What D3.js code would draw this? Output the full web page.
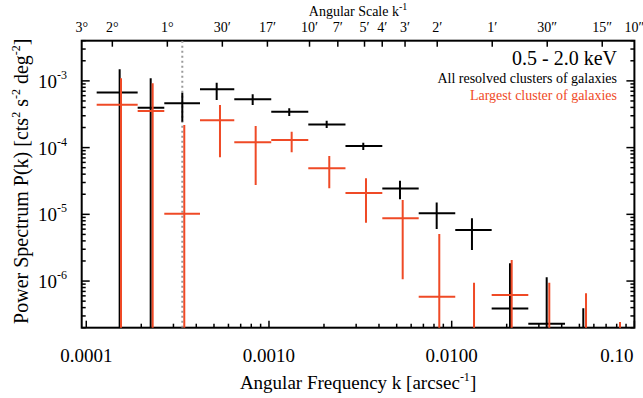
<!DOCTYPE html>
<html>
<head>
<meta charset="utf-8">
<script src="https://cdn.jsdelivr.net/npm/d3@7"></script>
<style>
  body { margin: 0; background: #fff; }
  text { font-family: "Liberation Serif", "Times New Roman", serif; }
</style>
</head>
<body>
<div class="chart"></div>
<script>
// bins (arcsec^-1)
const binLo = [1.14e-4, 1.911e-4, 2.673e-4, 4.192e-4, 6.458e-4, 1.029e-3, 1.641e-3, 2.622e-3, 4.171e-3, 6.598e-3, 1.046e-2, 1.655e-2, 2.626e-2, 4.172e-2, 6.622e-2];
const binHi = [1.911e-4, 2.673e-4, 4.192e-4, 6.458e-4, 1.029e-3, 1.641e-3, 2.622e-3, 4.171e-3, 6.598e-3, 1.046e-2, 1.655e-2, 2.626e-2, 4.172e-2, 6.622e-2, 0.105];

// all resolved clusters (black)
const allK  = [1.523e-4, 2.252e-4, 3.354e-4, 5.173e-4, 8.143e-4, 1.291e-3, 2.069e-3, 3.282e-3, 5.212e-3, 8.277e-3, 1.291e-2, 2.085e-2, 3.311e-2, 5.252e-2];
const allP  = [6.70e-4, 3.96e-4, 4.61e-4, 7.48e-4, 5.30e-4, 3.45e-4, 2.22e-4, 1.057e-4, 2.43e-5, 1.04e-5, 5.83e-6, 3.88e-7, 2.30e-7, null];
const allHi = [1.49e-3, 1.094e-3, 6.66e-4, 9.40e-4, 6.30e-4, 3.88e-4, 2.53e-4, 1.185e-4, 3.19e-5, 1.50e-5, 8.73e-6, 1.85e-6, 1.14e-6, 3.91e-7];
const allLo = [null, null, 2.45e-4, 5.18e-4, 4.35e-4, 2.98e-4, 1.97e-4, 9.20e-5, 1.68e-5, 6.04e-6, 2.92e-6, null, null, null];

// largest cluster (red)
const bigK  = [1.549e-4, 2.309e-4, 3.439e-4, 5.393e-4, 8.456e-4, 1.331e-3, 2.138e-3, 3.396e-3, 5.393e-3, 8.552e-3, 1.325e-2, 2.130e-2, 3.421e-2, 5.435e-2, 8.34e-2];
const bigP  = [4.40e-4, 3.54e-4, 1.023e-5, 2.57e-4, 1.20e-4, 1.30e-4, 4.90e-5, 2.09e-5, 8.73e-6, 5.83e-7, null, 6.19e-7, null, null, null];
const bigHi = [1.094e-3, 9.20e-4, 2.18e-4, 4.35e-4, 2.11e-4, 1.73e-4, 7.50e-5, 3.47e-5, 1.64e-5, 5.08e-6, 9.46e-7, 2.07e-6, 9.46e-7, 6.56e-7, 2.44e-7];
const bigLo = [null, null, null, 7.16e-5, 2.75e-5, 8.51e-5, 2.45e-5, 7.50e-6, 1.06e-6, null, null, null, null, null, null];

const beamK = 3.354e-4;

const xMajor = [0.0001, 0.001, 0.01, 0.1];
const xMajorLabels = ["0.0001", "0.0010", "0.0100", "0.10"];
const yMajorExp = [-3, -4, -5, -6];
const angArcsec = [10800, 7200, 3600, 1800, 1020, 600, 420, 300, 240, 180, 120, 60, 30, 15, 10];
const angLabels = ["3°", "2°", "1°", "30′", "17′", "10′", "7′", "5′", "4′", "3′", "2′", "1′", "30″", "15″", "10″"];

const W = 643, H = 398;
const margin = {top: 40.7, right: 8.6, bottom: 70.3, left: 81.7};
const red = "#ef4a26";

const svg = d3.select(".chart").append("svg")
    .attr("width", W).attr("height", H);

const x = d3.scaleLog().domain([9.44e-5, 0.1]).range([margin.left, W - margin.right]);
const y = d3.scaleLog().domain([2e-7, 4e-3]).range([H - margin.bottom, margin.top]);

const x0 = x.range()[0], x1 = x.range()[1], y0 = y.range()[0], y1 = y.range()[1];

svg.append("clipPath").attr("id", "plot")
  .append("rect").attr("x", x0).attr("y", y1).attr("width", x1 - x0).attr("height", y0 - y1);

// minor tick values
function minors(lo, hi) {
  const out = [];
  for (let e = lo; e <= hi; e++) for (let m = 1; m < 10; m++) out.push(m * Math.pow(10, e));
  return out;
}
function yMajor() { return yMajorExp.map(e => Math.pow(10, e)); }
const xMinor = minors(-5, -1).filter(v => v >= x.domain()[0] && v <= x.domain()[1] && !xMajor.includes(v));
const yMinor = minors(-7, -3).filter(v => v >= y.domain()[0] && v <= y.domain()[1] && !yMajor().includes(v));

const axes = svg.append("g").attr("stroke", "#000").attr("stroke-width", 1.5);
// bottom
axes.selectAll(".xmaj").data(xMajor).join("line")
  .attr("x1", d => x(d)).attr("x2", d => x(d)).attr("y1", y0).attr("y2", y0 - 7);
axes.selectAll(".xmin").data(xMinor).join("line")
  .attr("x1", d => x(d)).attr("x2", d => x(d)).attr("y1", y0).attr("y2", y0 - 4);
// left + right
[x0, x1].forEach((xx, i) => {
  const s = i === 0 ? 1 : -1;
  axes.append("g").selectAll("line").data(yMajor()).join("line")
    .attr("x1", xx).attr("x2", xx + s * 8).attr("y1", d => y(d)).attr("y2", d => y(d));
  axes.append("g").selectAll("line").data(yMinor).join("line")
    .attr("x1", xx).attr("x2", xx + s * 4).attr("y1", d => y(d)).attr("y2", d => y(d));
});
// top (angular scale)
const angK = angArcsec.map(a => 1 / a);
axes.append("g").selectAll("line").data(angK.filter(k => k >= x.domain()[0] && k < x.domain()[1]))
  .join("line")
  .attr("x1", d => x(d)).attr("x2", d => x(d)).attr("y1", y1).attr("y2", y1 + 6);

axes.append("rect").attr("x", x0).attr("y", y1).attr("width", x1 - x0).attr("height", y0 - y1)
  .attr("fill", "none").attr("stroke-width", 2);

// labels
svg.append("g").selectAll("text").data(xMajor).join("text")
  .attr("x", (d, i) => i === xMajor.length - 1 ? x1 - 1 : x(d))
  .attr("y", 362)
  .attr("text-anchor", (d, i) => i === xMajor.length - 1 ? "end" : "middle")
  .attr("font-size", 19)
  .text((d, i) => xMajorLabels[i]);

const yl = svg.append("g").selectAll("text").data(yMajorExp).join("text")
  .attr("x", 67).attr("y", d => y(Math.pow(10, d)) + 7)
  .attr("text-anchor", "end").attr("font-size", 19);
yl.append("tspan").text("10");
yl.append("tspan").attr("font-size", 12).attr("dy", -9).text(d => "-" + (-d));

svg.append("g").selectAll("text").data(angK).join("text")
  .attr("x", d => Math.max(x0, x(d)))
  .attr("y", 32)
  .attr("text-anchor", "middle").attr("font-size", 14)
  .text((d, i) => angLabels[i]);

const topTitle = svg.append("text").attr("x", (x0 + x1) / 2).attr("y", 16)
  .attr("text-anchor", "middle").attr("font-size", 14);
topTitle.append("tspan").text("Angular Scale k");
topTitle.append("tspan").attr("font-size", 10).attr("dy", -6).text("-1");

const xt = svg.append("text").attr("x", (x0 + x1) / 2).attr("y", 389)
  .attr("text-anchor", "middle").attr("font-size", 19);
xt.append("tspan").text("Angular Frequency k [arcsec");
xt.append("tspan").attr("font-size", 12).attr("dy", -8).text("-1");
xt.append("tspan").attr("dy", 8).text("]");

const yt = svg.append("text").attr("transform", "translate(28," + ((y0 + y1) / 2 - 3) + ") rotate(-90)")
  .attr("text-anchor", "middle").attr("font-size", 20);
yt.append("tspan").text("Power Spectrum  P(k) [cts");
yt.append("tspan").attr("font-size", 12).attr("dy", -8).text("2");
yt.append("tspan").attr("dy", 8).text(" s");
yt.append("tspan").attr("font-size", 12).attr("dy", -8).text("-2");
yt.append("tspan").attr("dy", 8).text(" deg");
yt.append("tspan").attr("font-size", 12).attr("dy", -8).text("-2");
yt.append("tspan").attr("dy", 8).text("]");

// legend
svg.append("text").attr("x", 617).attr("y", 65).attr("text-anchor", "end")
  .attr("font-size", 20).text("0.5 - 2.0 keV");
svg.append("text").attr("x", 617).attr("y", 83).attr("text-anchor", "end")
  .attr("font-size", 14).text("All resolved clusters of galaxies");
svg.append("text").attr("x", 617).attr("y", 100).attr("text-anchor", "end")
  .attr("font-size", 14).attr("fill", red).text("Largest cluster of galaxies");

// data
const plot = svg.append("g").attr("clip-path", "url(#plot)");

plot.append("line")
  .attr("x1", x(beamK)).attr("x2", x(beamK)).attr("y1", y1).attr("y2", y0)
  .attr("stroke", "#9a9a9a").attr("stroke-width", 2).attr("stroke-dasharray", "2,3");

function errorBars(K, P, Hi, Lo, color) {
  const g = plot.append("g").attr("stroke", color).attr("stroke-width", 2);
  const idx = d3.range(K.length);
  g.selectAll(".h").data(idx.filter(i => P[i] !== null)).join("line")
    .attr("x1", i => x(binLo[i])).attr("x2", i => x(binHi[i]))
    .attr("y1", i => y(P[i])).attr("y2", i => y(P[i]));
  g.selectAll(".v").data(idx).join("line")
    .attr("x1", i => x(K[i])).attr("x2", i => x(K[i]))
    .attr("y1", i => y(Hi[i])).attr("y2", i => Lo[i] === null ? y0 + 2 : y(Lo[i]));
}
errorBars(allK, allP, allHi, allLo, "#000");
errorBars(bigK, bigP, bigHi, bigLo, red);
</script>
</body>
</html>
